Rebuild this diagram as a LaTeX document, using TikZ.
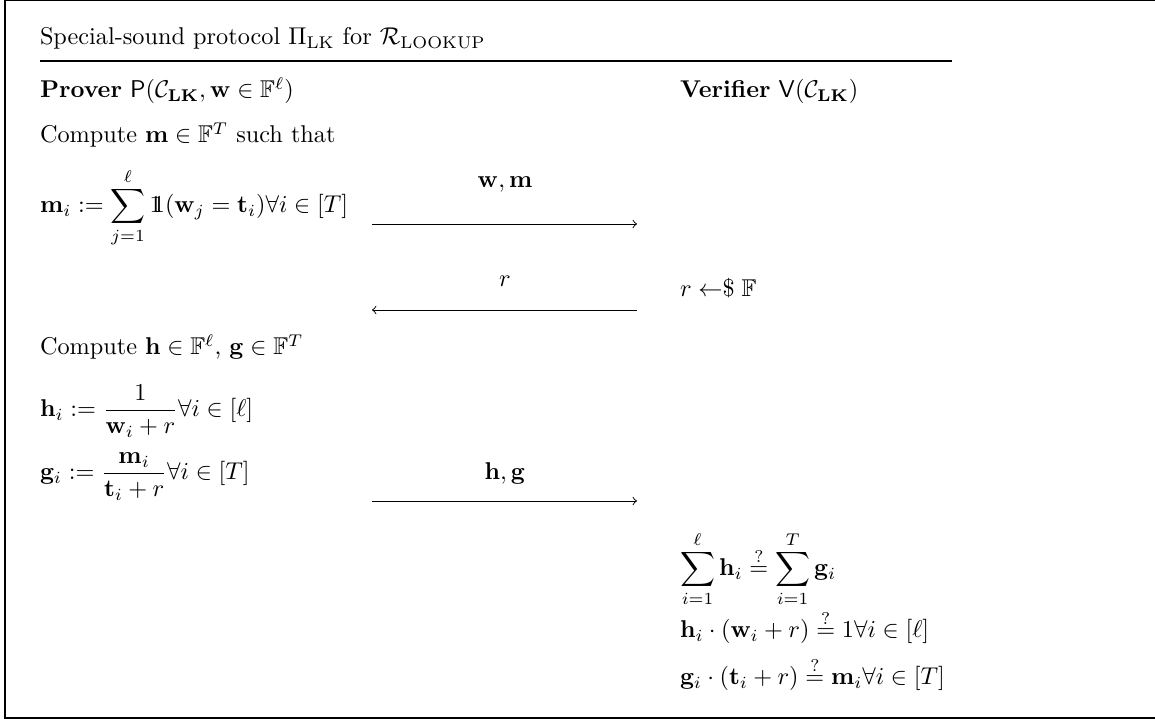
\documentclass[tikz,border=0pt]{standalone}
\usepackage{amsmath,amssymb}
\newcommand{\smpl}{\mathrel{\leftarrow\mkern-5mu\$}}
\newcommand{\indic}{\mathord{\mathrm{1}\mkern-6.5mu\mathrm{1}}}
\begin{document}
\begin{tikzpicture}[x=0.412pt,y=-0.412pt,
  txt/.style={anchor=base west,inner sep=0pt,outer sep=0pt},
  lbl/.style={anchor=base,inner sep=0pt,outer sep=0pt},
  msg/.style={->,line width=0.4pt},
  frame/.style={line width=0.45pt}]
\useasboundingbox (0,0) rectangle (1155,719);
\draw[frame] (1156,0.6) -- (5,0.6) -- (5,718) -- (1156,718);
% title
\node[txt] (title) at (40,45) {Special-sound protocol $\Pi_{\mathrm{LK}}$ for $\mathcal{R}_{\mathrm{LOOKUP}}$};
\coordinate (ulL) at (40,61);
\coordinate (ulR) at (952,61);
\draw[frame] (ulL) -- (ulR);
% parties
\node[txt] (prover) at (40,98) {\textbf{Prover} $\mathsf{P}(\mathcal{C}_{\mathbf{LK}},\mathbf{w}\in\mathbb{F}^{\ell})$};
\node[txt] (verifier) at (680,98) {\textbf{Verifier} $\mathsf{V}(\mathcal{C}_{\mathbf{LK}})$};
% prover step 1
\node[txt] (comp1) at (40,143) {Compute $\mathbf{m}\in\mathbb{F}^{T}$ such that};
\node[txt] (mdef) at (40,213) {$\displaystyle \mathbf{m}_i := \sum_{j=1}^{\ell}\indic(\mathbf{w}_j=\mathbf{t}_i)\forall i\in[T]$};
% message 1
\coordinate (m1a) at (372,224);
\coordinate (m1b) at (637,224);
\draw[msg] (m1a) -- (m1b);
\node[lbl] (m1l) at (505,188) {$\mathbf{w},\mathbf{m}$};
% message 2
\coordinate (m2a) at (637,310);
\coordinate (m2b) at (372,310);
\draw[msg] (m2a) -- (m2b);
\node[lbl] (m2l) at (505,287) {$r$};
\node[txt] (samp) at (680,297) {$r \smpl \mathbb{F}$};
% prover step 2
\node[txt] (comp2) at (40,355) {Compute $\mathbf{h}\in\mathbb{F}^{\ell}$, $\mathbf{g}\in\mathbb{F}^{T}$};
\node[txt] (hdef) at (40,417) {$\displaystyle \mathbf{h}_i := \frac{1}{\mathbf{w}_i+r}\forall i\in[\ell]$};
\node[txt] (gdef) at (40,480) {$\displaystyle \mathbf{g}_i := \frac{\mathbf{m}_i}{\mathbf{t}_i+r}\forall i\in[T]$};
% message 3
\coordinate (m3a) at (372,501);
\coordinate (m3b) at (637,501);
\draw[msg] (m3a) -- (m3b);
\node[lbl] (m3l) at (505,480) {$\mathbf{h},\mathbf{g}$};
% verifier checks
\node[txt] (chk1) at (680,576) {$\displaystyle \sum_{i=1}^{\ell}\mathbf{h}_i \stackrel{?}{=} \sum_{i=1}^{T}\mathbf{g}_i$};
\node[txt] (chk2) at (680,638) {$\mathbf{h}_i\cdot(\mathbf{w}_i+r)\stackrel{?}{=}1\forall i\in[\ell]$};
\node[txt] (chk3) at (680,685) {$\mathbf{g}_i\cdot(\mathbf{t}_i+r)\stackrel{?}{=}\mathbf{m}_i\forall i\in[T]$};
\end{tikzpicture}
\end{document}
